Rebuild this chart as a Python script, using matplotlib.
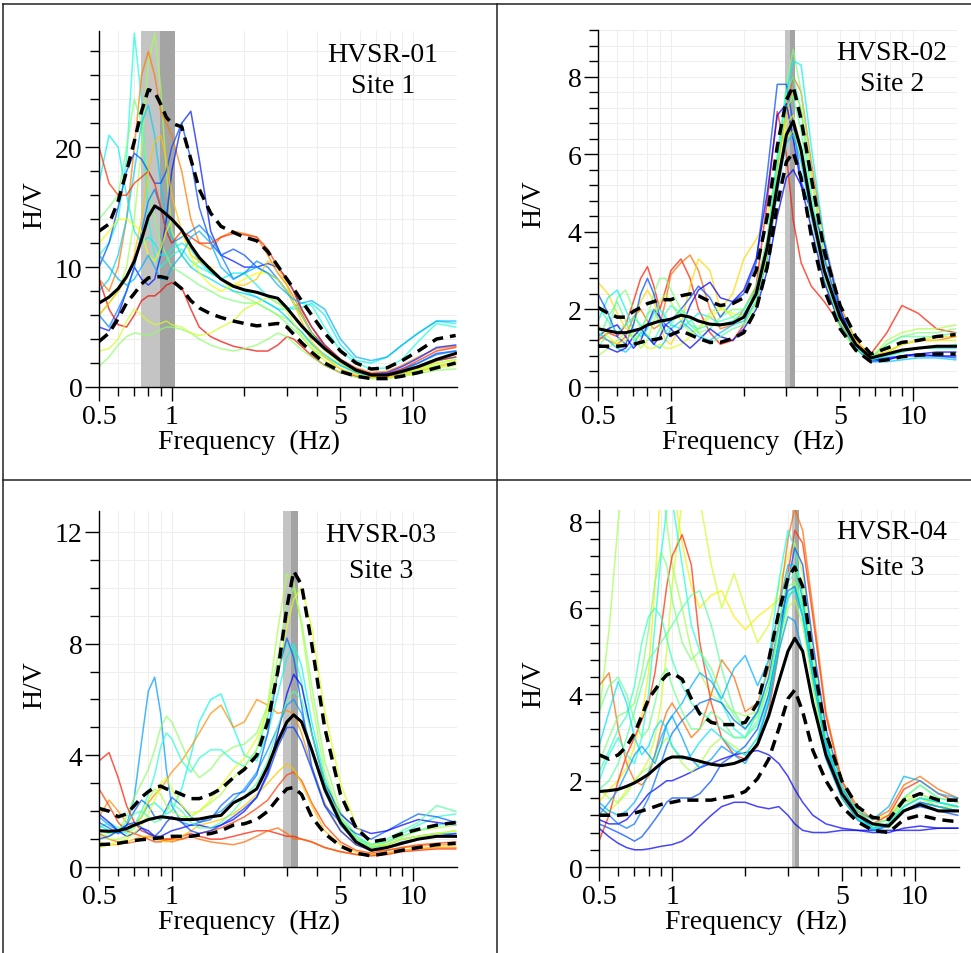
import matplotlib.pyplot as plt
from matplotlib.lines import Line2D
from matplotlib.ticker import FixedLocator, NullFormatter

plt.rcParams['font.family'] = ['Liberation Serif', 'DejaVu Serif']

# frequency grid (Hz) shared by all curves
freq = [0.5, 0.55, 0.6, 0.65, 0.7, 0.75, 0.8, 0.85, 0.9, 0.95, 1.0, 1.1, 1.2, 1.3, 1.45, 1.6, 1.8,
        2.0, 2.25, 2.5, 2.75, 3.0, 3.2, 3.45, 3.8, 4.3, 5.0, 5.8, 6.7, 7.8, 9.0, 10.5, 12.5, 15.0]

# ---------------- HVSR-01 / Site 1 ----------------
p1_mean = [7.0, 7.5, 8.2, 9.2, 10.5, 12.3, 14.2, 15.1, 14.8, 14.4, 14.0, 13.1, 11.8, 10.8, 9.8, 9.0, 8.4,
           8.1, 7.9, 7.6, 7.4, 6.6, 5.9, 5.1, 4.2, 3.2, 2.2, 1.4, 1.0, 1.0, 1.3, 1.7, 2.3, 2.8]
p1_upper = [13.0, 13.6, 15.5, 18.0, 20.5, 23.0, 24.8, 24.6, 23.6, 22.5, 22.0, 21.7, 19.0, 16.5, 14.5, 13.4, 12.9,
            12.5, 12.2, 11.3, 10.1, 9.0, 8.2, 7.2, 6.0, 4.5, 3.0, 2.0, 1.5, 1.6, 2.2, 3.0, 4.0, 4.3]
p1_lower = [3.8, 4.5, 5.7, 7.0, 7.8, 8.6, 9.1, 9.2, 9.2, 9.1, 8.9, 8.2, 7.2, 6.6, 6.1, 5.8, 5.5,
            5.3, 5.1, 5.2, 5.3, 5.0, 4.4, 3.7, 2.9, 2.0, 1.3, 0.9, 0.7, 0.7, 0.9, 1.2, 1.6, 2.0]
p1_c01 = [11, 12, 14, 19, 29.5, 24, 14, 11, 10, 10.5, 11, 11.5, 10.5, 10, 9.5, 9, 8.5, 8, 7.5, 7, 6.5, 6.5, 6.7, 7.0, 6.8, 5.0, 3.0, 2.0, 1.5, 1.6, 2.3, 3.8, 5.3, 5.0]
p1_c02 = [6, 7, 8, 10, 14, 20, 27, 29.5, 25, 18, 13, 11, 10, 10.5, 10, 9, 8, 7.5, 7, 6.5, 6, 5.7, 5.2, 4.6, 3.5, 2.5, 1.8, 1.2, 0.9, 0.9, 1.1, 1.4, 1.8, 2.0]
p1_c03 = [9, 8, 10, 14, 20, 26, 28, 26, 23, 22, 21, 18, 14, 12, 11.5, 12.5, 13, 12.8, 12.5, 11, 9.5, 8.5, 7.5, 6.2, 4.5, 3.5, 2.3, 1.6, 1.2, 1.3, 1.8, 2.5, 3.2, 3.4]
p1_c04 = [14, 15, 16, 20, 24, 22, 17, 14, 12, 11, 10, 9.5, 9, 8.5, 8, 7.5, 7.2, 7, 7, 6.5, 6, 5.3, 4.8, 4.2, 3.2, 2.5, 1.8, 1.2, 0.9, 0.9, 1.1, 1.5, 2.0, 2.3]
p1_c05 = [8, 9, 11, 14, 18, 22, 23.5, 21, 17, 14, 12.5, 11, 10, 9.5, 9, 8.5, 8, 7.8, 7.5, 7, 6.5, 5.8, 5.2, 4.6, 3.6, 2.7, 1.8, 1.2, 0.9, 0.9, 1.2, 1.6, 2.2, 2.5]
p1_c06 = [5, 4.7, 6, 8, 10, 9, 8.5, 9, 11, 14, 18, 22, 23, 19, 13, 11, 10.5, 10, 10, 10.3, 10, 9, 8, 6.5, 5, 3.5, 2.3, 1.5, 1.1, 1.2, 1.7, 2.4, 3.3, 3.5]
p1_c07 = [17, 21, 20, 16, 13, 12, 12.5, 12, 11, 11, 11.5, 12, 11.5, 10.5, 9.5, 9, 9.5, 9.5, 8.5, 7.5, 7, 6.6, 6.5, 6.6, 7, 6, 3.5, 2.2, 2, 2.5, 3.5, 4.5, 5.5, 5.3]
p1_c08 = [10, 12, 15, 18, 19.5, 19, 18, 17, 17, 18, 20, 22, 19, 15, 12, 11, 11.5, 11, 10, 9.5, 9, 8, 7, 6, 4.5, 3.3, 2.2, 1.4, 1.1, 1.1, 1.5, 2.0, 2.8, 3.0]
p1_c09 = [6, 5, 6.5, 8, 10, 13, 15.5, 16.5, 15, 13, 12, 12.5, 13, 13.5, 12.5, 11, 9, 9.5, 10.5, 10, 9, 8, 7, 6, 4.5, 3.2, 2.0, 1.3, 1.0, 1.0, 1.4, 2.0, 2.7, 3.0]
p1_c10 = [20, 17, 16, 16, 17, 17.5, 18, 17, 15, 13, 12, 13, 12.5, 12, 12, 12.5, 12.8, 12.7, 12.5, 11.5, 10, 9, 8, 6.5, 5, 3.5, 2.3, 1.5, 1.1, 1.1, 1.5, 2.2, 3, 3.3]
p1_c11 = [9, 6.5, 5.2, 5, 6, 7.2, 7.6, 7.6, 8, 8.5, 8.7, 8.3, 6.5, 5, 4.2, 3.8, 3.4, 3.2, 3.0, 3.0, 3.5, 4.2, 4.0, 3.4, 2.6, 1.8, 1.2, 0.9, 0.8, 0.9, 1.2, 1.6, 2.2, 2.5]
p1_c12 = [1.7, 2.5, 3.5, 4.2, 4.5, 4.4, 4.3, 4.5, 4.8, 5, 5, 4.8, 4.5, 4, 3.5, 3.2, 3, 3.2, 3.5, 4, 4.5, 4.2, 3.7, 3.1, 2.5, 1.8, 1.2, 0.8, 0.7, 0.7, 0.9, 1.1, 1.4, 1.5]
p1_c13 = [3, 3.2, 4, 5.5, 6.5, 6, 5.5, 5.2, 5.3, 5.5, 5.2, 5, 4.5, 4.3, 4.5, 5, 5.5, 6.5, 7, 7.5, 7, 6.3, 5.3, 4.3, 3.2, 2.2, 1.5, 1.0, 0.8, 0.8, 0.9, 1.2, 1.6, 1.8]
p1_c14 = [6, 7, 8, 9, 11, 14, 18, 20.5, 21, 19, 16, 13, 11, 10.5, 10, 9, 8.5, 8.5, 9, 10.5, 10, 8.5, 7, 5.5, 3.8, 2.5, 1.5, 1.0, 0.8, 0.8, 1.0, 1.3, 1.7, 2.0]
p1_c15 = [12, 13, 14, 14, 13.5, 13, 11, 10.5, 11.5, 13, 14, 13, 11, 9.5, 8.5, 8, 8.5, 9, 9.5, 9.5, 9, 8, 7, 6, 4.5, 3, 2, 1.3, 1.0, 1.0, 1.2, 1.5, 2, 2.2]
p1_c16 = [11, 10, 9, 8.5, 9, 10, 11, 10, 9, 9, 10, 11, 12.5, 13, 12, 10, 9, 9.5, 10, 9.5, 8.5, 7.8, 7.3, 7, 7.2, 6.5, 4, 2.5, 2.2, 2.5, 3.5, 4.5, 5.5, 5.5]
p1_f0 = [0.745, 0.89, 1.03]

# ---------------- HVSR-02 / Site 2 ----------------
p2_mean = [1.5, 1.45, 1.4, 1.4, 1.45, 1.5, 1.6, 1.65, 1.7, 1.72, 1.75, 1.85, 1.8, 1.7, 1.62, 1.6, 1.65,
           1.8, 2.4, 3.6, 5.2, 6.5, 6.85, 6.1, 4.6, 3.0, 1.8, 1.1, 0.75, 0.85, 0.95, 1.0, 1.05, 1.05]
p2_upper = [2.05, 1.9, 1.8, 1.8, 1.95, 2.05, 2.15, 2.2, 2.25, 2.25, 2.25, 2.35, 2.4, 2.35, 2.2, 2.1, 2.15,
            2.3, 3.0, 4.4, 6.2, 7.4, 7.75, 6.9, 5.4, 3.5, 2.1, 1.3, 0.85, 1.0, 1.15, 1.2, 1.3, 1.35]
p2_lower = [1.05, 1.05, 1.05, 1.07, 1.1, 1.15, 1.2, 1.22, 1.25, 1.3, 1.35, 1.45, 1.35, 1.25, 1.15, 1.15, 1.25,
            1.4, 2.0, 3.1, 4.7, 5.8, 6.05, 5.4, 3.9, 2.5, 1.5, 0.95, 0.65, 0.7, 0.78, 0.82, 0.85, 0.85]
p2_c01 = [1.2, 1.4, 1.3, 1.6, 2.2, 2.8, 3.1, 2.6, 2.0, 2.5, 3.0, 3.3, 2.8, 2.0, 1.4, 1.1, 1.2, 1.6, 2.6, 4.8, 7.1, 6.0, 4.3, 3.2, 2.6, 2.2, 1.6, 1.1, 0.85, 1.4, 2.1, 1.9, 1.5, 1.4]
p2_c02 = [1.3, 1.2, 1.1, 1.3, 1.8, 2.0, 1.7, 1.5, 1.6, 2.2, 2.9, 3.2, 3.4, 3.0, 2.0, 1.5, 1.6, 2.0, 2.6, 3.8, 5.6, 7.2, 8.0, 7.6, 5.8, 3.8, 2.1, 1.2, 0.8, 0.9, 1.1, 1.2, 1.2, 1.3]
p2_c03 = [2.7, 2.4, 1.9, 1.5, 1.6, 2.2, 2.5, 2.2, 1.6, 1.2, 1.1, 1.6, 2.6, 3.3, 3.0, 2.0, 2.4, 3.3, 3.8, 4.4, 5.6, 7.0, 7.6, 7.2, 5.4, 3.4, 2.0, 1.2, 0.8, 0.9, 1.1, 1.2, 1.3, 1.3]
p2_c04 = [1.0, 1.4, 2.3, 2.5, 2.0, 1.5, 1.8, 2.4, 2.8, 2.8, 2.5, 2.0, 1.6, 1.4, 1.5, 1.8, 2.0, 2.0, 2.6, 3.8, 5.8, 7.8, 8.7, 7.6, 5.6, 3.4, 1.9, 1.1, 0.75, 1.1, 1.3, 1.4, 1.4, 1.5]
p2_c05 = [1.7, 2.3, 2.5, 2.0, 1.5, 1.3, 1.5, 1.9, 2.0, 1.8, 1.6, 1.5, 1.7, 1.9, 1.8, 1.6, 1.7, 1.9, 2.4, 3.6, 5.8, 7.6, 8.4, 8.3, 6.2, 3.8, 2.0, 1.1, 0.7, 0.8, 0.9, 1.0, 1.0, 1.0]
p2_c06 = [2.4, 1.9, 1.3, 1.1, 1.6, 2.4, 2.8, 2.4, 1.8, 1.6, 1.7, 2.0, 2.3, 2.6, 2.3, 1.8, 2.2, 2.4, 3.2, 5.5, 7.8, 7.8, 6.8, 5.3, 4.5, 3.3, 1.9, 1.1, 0.7, 0.7, 0.8, 0.8, 0.8, 0.75]
p2_c07 = [1.3, 1.5, 1.6, 1.3, 1.0, 1.2, 1.6, 2.0, 1.8, 1.4, 1.3, 1.5, 2.1, 2.5, 2.7, 2.3, 2.2, 2.5, 3.3, 5.0, 7.0, 7.3, 6.4, 5.2, 4.6, 3.7, 2.0, 1.0, 0.65, 0.7, 0.8, 0.85, 0.8, 0.8]
p2_c08 = [0.8, 1.0, 1.2, 1.4, 1.3, 1.0, 1.2, 1.7, 2.2, 2.4, 2.2, 1.7, 1.4, 1.5, 1.9, 2.1, 1.8, 1.6, 2.1, 3.3, 5.2, 6.4, 6.6, 5.9, 4.4, 2.8, 1.5, 0.95, 0.75, 1.2, 1.4, 1.5, 1.5, 1.6]
p2_c09 = [1.4, 1.2, 1.0, 0.9, 1.1, 1.4, 1.3, 1.1, 1.0, 1.2, 1.5, 1.7, 1.5, 1.3, 1.2, 1.4, 1.6, 1.7, 2.2, 3.3, 5.0, 6.3, 6.5, 5.8, 4.4, 2.9, 1.7, 1.0, 0.65, 0.65, 0.7, 0.75, 0.75, 0.7]
p2_c10 = [1.6, 1.3, 1.1, 1.2, 1.4, 1.2, 1.0, 1.0, 1.1, 1.0, 1.0, 1.1, 1.3, 1.5, 1.8, 2.0, 1.9, 1.8, 2.3, 3.4, 5.3, 6.8, 7.0, 6.2, 4.6, 2.9, 1.7, 1.0, 0.7, 0.9, 1.1, 1.2, 1.2, 1.2]
p2_c11 = [1.1, 1.0, 0.9, 1.0, 1.3, 1.5, 1.3, 1.1, 1.3, 1.6, 1.5, 1.2, 1.0, 1.2, 1.5, 1.3, 1.2, 1.5, 2.0, 3.0, 4.4, 5.4, 5.6, 5.2, 4.1, 2.7, 1.6, 1.0, 0.7, 0.75, 0.8, 0.85, 0.9, 0.9]
p2_c12 = [1.2, 1.8, 2.2, 1.7, 1.2, 1.4, 1.9, 2.0, 1.6, 1.4, 1.6, 2.0, 1.8, 1.4, 1.1, 1.3, 1.5, 1.6, 2.2, 3.6, 5.7, 7.2, 7.5, 6.6, 4.8, 2.9, 1.6, 1.0, 0.75, 1.1, 1.3, 1.3, 1.3, 1.4]
p2_c13 = [2.1, 1.7, 1.4, 1.6, 1.8, 1.6, 1.3, 1.2, 1.5, 1.9, 2.1, 1.9, 1.6, 1.5, 1.6, 1.7, 1.8, 2.0, 2.5, 3.8, 6.0, 7.6, 8.0, 7.1, 5.0, 3.1, 1.8, 1.0, 0.7, 0.8, 0.9, 1.0, 1.0, 1.1]
p2_f0 = [2.95, 3.09, 3.24]

# ---------------- HVSR-03 / Site 3 ----------------
p3_mean = [1.3, 1.28, 1.3, 1.38, 1.5, 1.6, 1.7, 1.75, 1.8, 1.78, 1.75, 1.7, 1.7, 1.72, 1.8, 1.85, 2.3,
           2.5, 2.8, 3.6, 4.5, 5.2, 5.45, 5.2, 4.2, 2.8, 1.6, 0.9, 0.6, 0.7, 0.85, 1.0, 1.1, 1.1]
p3_upper = [2.1, 2.0, 1.8, 1.9, 2.2, 2.5, 2.7, 2.85, 2.9, 2.8, 2.75, 2.6, 2.45, 2.45, 2.6, 2.8, 3.2,
            3.5, 4.0, 5.2, 7.0, 9.3, 10.6, 10.1, 8.0, 5.0, 2.6, 1.4, 0.9, 1.0, 1.2, 1.35, 1.5, 1.6]
p3_lower = [0.8, 0.82, 0.85, 0.9, 0.95, 0.98, 1.0, 1.02, 1.05, 1.08, 1.1, 1.1, 1.1, 1.15, 1.2, 1.3, 1.5,
            1.55, 1.7, 2.0, 2.45, 2.8, 2.85, 2.6, 1.8, 1.2, 0.75, 0.5, 0.4, 0.5, 0.6, 0.7, 0.8, 0.85]
p3_c01 = [1.8, 1.5, 1.3, 1.5, 2.5, 4.5, 6.3, 6.8, 5.5, 3.5, 2.2, 1.6, 1.5, 1.6, 1.8, 2.0, 2.4, 2.8, 3.4, 4.2, 5.0, 5.8, 6.0, 5.5, 4.2, 2.7, 1.5, 0.9, 0.7, 0.8, 1.0, 1.1, 1.2, 1.2]
p3_c02 = [1.5, 1.3, 1.2, 1.3, 1.5, 1.8, 2.2, 2.3, 2.1, 1.9, 2.0, 2.8, 4.0, 5.2, 6.0, 6.2, 5.0, 4.0, 3.8, 4.8, 6.2, 7.5, 8.0, 7.2, 5.2, 3.2, 1.8, 1.1, 0.8, 0.9, 1.1, 1.3, 1.5, 1.6]
p3_c03 = [1.8, 2.4, 2.0, 1.6, 1.5, 1.8, 2.3, 2.6, 2.8, 3.1, 3.4, 3.8, 4.3, 4.8, 5.5, 5.8, 5.0, 5.2, 6.0, 5.8, 5.5, 5.6, 5.5, 4.8, 3.6, 2.3, 1.3, 0.8, 0.6, 0.6, 0.7, 0.75, 0.8, 0.8]
p3_c04 = [1.2, 1.1, 1.3, 1.8, 2.5, 3.0, 3.5, 4.2, 5.0, 5.4, 5.2, 4.4, 3.6, 3.2, 3.5, 4.0, 4.3, 4.4, 4.8, 5.8, 7.5, 9.5, 10.0, 8.8, 6.5, 3.8, 2.0, 1.1, 0.7, 0.8, 1.0, 1.1, 1.2, 1.3]
p3_c05 = [1.4, 1.6, 1.4, 1.2, 1.5, 2.0, 2.6, 3.3, 4.3, 4.8, 4.6, 3.8, 3.4, 3.9, 4.2, 4.2, 3.8, 3.6, 4.2, 5.4, 7.0, 8.0, 7.8, 6.6, 4.8, 3.0, 1.7, 1.0, 0.7, 0.9, 1.2, 1.5, 1.8, 1.9]
p3_c06 = [3.8, 4.1, 3.2, 2.2, 1.6, 1.3, 1.2, 1.1, 1.0, 1.0, 1.0, 1.1, 1.2, 1.1, 1.0, 1.0, 1.1, 1.2, 1.3, 1.3, 1.2, 1.1, 1.1, 1.0, 0.9, 0.7, 0.55, 0.45, 0.4, 0.45, 0.55, 0.6, 0.65, 0.65]
p3_c07 = [2.8, 2.2, 1.6, 1.3, 1.2, 1.1, 1.0, 0.9, 0.9, 1.0, 1.0, 1.0, 1.1, 1.2, 1.3, 1.4, 1.6, 1.8, 2.1, 2.4, 2.9, 3.3, 3.4, 3.1, 2.3, 1.5, 0.9, 0.6, 0.5, 0.6, 0.7, 0.8, 0.85, 0.9]
p3_c08 = [1.2, 1.0, 0.9, 0.85, 0.9, 1.0, 1.1, 1.1, 1.0, 0.95, 0.9, 1.0, 1.1, 1.0, 0.9, 0.85, 0.8, 0.9, 1.1, 1.3, 1.4, 1.2, 1.0, 1.0, 0.9, 0.7, 0.55, 0.45, 0.45, 0.5, 0.6, 0.65, 0.7, 0.7]
p3_c09 = [0.9, 0.8, 0.8, 0.9, 1.0, 1.1, 1.1, 1.0, 0.95, 0.9, 0.95, 1.1, 1.3, 1.5, 1.6, 1.7, 1.9, 2.2, 2.6, 3.0, 3.4, 3.7, 3.5, 3.0, 2.2, 1.3, 0.8, 0.55, 0.45, 0.5, 0.6, 0.65, 0.7, 0.7]
p3_c10 = [1.6, 1.4, 1.2, 1.5, 2.0, 2.4, 2.2, 1.8, 1.7, 2.1, 2.5, 2.2, 1.8, 1.6, 1.7, 2.2, 2.6, 2.7, 3.3, 4.8, 7.0, 8.2, 7.5, 5.8, 3.6, 2.2, 1.6, 1.2, 1.0, 1.3, 1.6, 1.9, 1.8, 1.6]
p3_c11 = [1.9, 1.6, 1.3, 1.1, 1.2, 1.4, 1.3, 1.1, 1.1, 1.2, 1.3, 1.4, 1.5, 1.5, 1.4, 1.5, 1.7, 2.0, 2.5, 3.4, 4.8, 6.2, 6.9, 6.5, 4.8, 3.0, 1.9, 1.4, 1.2, 1.3, 1.5, 1.7, 1.6, 1.5]
p3_c12 = [1.1, 1.0, 1.0, 1.1, 1.4, 1.8, 2.4, 2.8, 2.6, 2.2, 2.0, 1.8, 1.8, 2.0, 2.3, 2.6, 3.2, 3.6, 4.2, 5.8, 8.5, 10.5, 10.2, 8.6, 6.0, 3.4, 1.8, 1.0, 0.7, 0.9, 1.1, 1.3, 1.4, 1.5]
p3_c13 = [0.7, 0.8, 0.9, 1.0, 1.2, 1.5, 1.9, 2.4, 3.0, 3.2, 2.8, 2.2, 1.9, 2.0, 2.4, 2.9, 3.5, 3.9, 4.6, 5.6, 7.0, 8.6, 9.6, 10.0, 8.6, 5.6, 3.0, 1.5, 0.8, 0.8, 1.0, 1.1, 1.2, 1.3]
p3_c14 = [1.3, 1.2, 1.3, 1.6, 1.9, 2.0, 1.8, 1.6, 1.7, 2.0, 2.3, 2.0, 1.6, 1.4, 1.4, 1.6, 2.0, 2.5, 3.0, 3.8, 5.0, 6.0, 6.3, 6.0, 4.8, 3.0, 1.7, 1.0, 0.8, 1.0, 1.3, 1.6, 2.2, 2.0]
p3_c15 = [1.0, 1.1, 1.3, 1.5, 1.6, 1.4, 1.2, 1.1, 1.3, 1.6, 1.8, 1.6, 1.3, 1.2, 1.3, 1.5, 1.8, 2.1, 2.5, 3.3, 4.3, 5.0, 5.0, 4.5, 3.5, 2.2, 1.3, 0.8, 0.6, 0.7, 0.9, 1.0, 1.1, 1.2]
p3_f0 = [2.88, 3.11, 3.32]

# ---------------- HVSR-04 / Site 3 ----------------
p4_mean = [1.75, 1.77, 1.8, 1.87, 1.95, 2.05, 2.15, 2.28, 2.4, 2.5, 2.55, 2.55, 2.5, 2.45, 2.38, 2.35, 2.4,
           2.5, 2.85, 3.5, 4.3, 5.0, 5.3, 5.0, 3.8, 2.6, 1.7, 1.2, 1.0, 0.95, 1.3, 1.45, 1.3, 1.3]
p4_upper = [2.6, 2.5, 2.6, 2.8, 3.1, 3.5, 3.9, 4.1, 4.3, 4.45, 4.5, 4.35, 3.9, 3.55, 3.35, 3.3, 3.3,
            3.35, 3.8, 4.8, 5.9, 6.7, 6.95, 6.5, 4.8, 3.1, 2.0, 1.4, 1.15, 1.1, 1.55, 1.7, 1.55, 1.55]
p4_lower = [1.2, 1.2, 1.2, 1.22, 1.25, 1.3, 1.35, 1.4, 1.45, 1.48, 1.5, 1.55, 1.55, 1.55, 1.55, 1.6, 1.65,
            1.75, 2.05, 2.5, 3.2, 3.9, 4.1, 3.6, 2.7, 2.0, 1.4, 1.05, 0.85, 0.8, 1.1, 1.2, 1.1, 1.05]
p4_c01 = [3.5, 5.5, 8.0, 10, 12, 12, 11, 10, 9, 8, 7, 6, 5, 4.5, 4, 3.8, 3.6, 3.5, 3.6, 4.2, 5.2, 6.2, 6.6, 6.0, 4.3, 2.8, 1.8, 1.3, 1.0, 0.9, 1.3, 1.5, 1.4, 1.4]
p4_c02 = [1.5, 1.8, 2.0, 2.3, 2.8, 3.5, 4.5, 6.5, 9.0, 10, 9, 7.5, 6.5, 6.0, 6.3, 6.4, 5.8, 5.5, 5.8, 6.0, 6.2, 6.8, 7.0, 6.2, 4.5, 2.8, 1.8, 1.3, 1.1, 1.2, 1.6, 1.7, 1.5, 1.4]
p4_c03 = [1.2, 1.3, 1.5, 1.8, 2.0, 2.2, 2.5, 3.0, 3.8, 5.0, 6.5, 8.5, 9.0, 8.5, 7.0, 6.0, 6.8, 6.0, 5.2, 5.6, 6.5, 7.2, 7.5, 6.8, 5.0, 3.0, 1.8, 1.2, 1.0, 1.1, 1.5, 1.6, 1.4, 1.3]
p4_c04 = [0.6, 1.2, 2.0, 2.6, 3.0, 3.4, 3.8, 4.5, 5.5, 6.5, 7.2, 7.7, 7.0, 5.2, 3.8, 3.0, 2.6, 2.5, 2.8, 3.6, 5.0, 6.8, 7.8, 7.5, 5.8, 3.5, 2.0, 1.3, 1.0, 1.2, 1.8, 2.0, 1.7, 1.5]
p4_c05 = [4.2, 4.5, 3.2, 2.4, 2.0, 1.9, 2.1, 2.6, 3.2, 3.6, 3.8, 3.4, 3.0, 3.2, 4.0, 4.8, 4.4, 3.6, 3.8, 4.6, 6.0, 7.6, 8.3, 7.8, 6.0, 3.6, 2.0, 1.4, 1.1, 1.3, 1.9, 2.1, 1.8, 1.6]
p4_c06 = [2.0, 2.6, 3.0, 2.6, 2.4, 3.0, 4.0, 5.6, 7.2, 8.3, 8.5, 7.0, 5.6, 5.0, 4.4, 3.8, 3.2, 3.0, 3.6, 4.8, 6.6, 7.8, 7.4, 6.2, 4.6, 2.9, 1.7, 1.2, 0.9, 1.0, 1.4, 1.6, 1.5, 1.4]
p4_c07 = [2.4, 3.0, 3.5, 3.6, 3.8, 4.5, 5.5, 6.6, 7.3, 7.0, 6.2, 5.2, 4.8, 5.0, 4.6, 4.0, 3.5, 3.2, 3.5, 4.2, 5.4, 6.5, 6.6, 5.8, 4.2, 2.6, 1.6, 1.1, 0.9, 1.0, 1.5, 1.7, 1.5, 1.4]
p4_c08 = [1.8, 2.0, 2.4, 3.0, 3.6, 4.2, 4.8, 5.0, 5.2, 5.4, 5.6, 6.0, 6.3, 6.4, 5.6, 4.6, 3.6, 3.2, 3.6, 4.4, 5.6, 6.6, 6.8, 6.0, 4.3, 2.7, 1.7, 1.2, 1.0, 1.1, 1.6, 1.9, 1.6, 1.5]
p4_c09 = [2.2, 2.7, 3.2, 3.5, 4.2, 5.2, 5.8, 6.0, 5.8, 5.3, 4.8, 4.2, 3.8, 3.6, 3.4, 3.2, 3.0, 3.0, 3.3, 4.0, 5.2, 6.2, 6.5, 6.0, 4.6, 2.9, 1.8, 1.2, 0.95, 1.0, 1.4, 1.6, 1.5, 1.4]
p4_c10 = [1.0, 0.9, 0.8, 0.7, 0.6, 0.7, 0.9, 1.1, 1.3, 1.5, 1.6, 1.6, 1.6, 1.7, 2.0, 2.4, 2.6, 2.8, 3.2, 4.0, 5.2, 6.6, 7.4, 7.0, 5.2, 3.2, 1.9, 1.2, 0.9, 1.0, 1.3, 1.4, 1.3, 1.2]
p4_c11 = [0.9, 0.7, 0.55, 0.45, 0.4, 0.4, 0.42, 0.45, 0.48, 0.5, 0.52, 0.6, 0.75, 0.95, 1.2, 1.4, 1.5, 1.5, 1.4, 1.35, 1.4, 1.2, 1.0, 0.85, 0.8, 0.8, 0.85, 0.85, 0.85, 0.85, 0.85, 0.85, 0.9, 0.9]
p4_c12 = [1.1, 1.0, 1.0, 1.1, 1.3, 1.5, 1.7, 1.8, 1.9, 2.0, 2.0, 2.1, 2.2, 2.3, 2.4, 2.5, 2.6, 2.65, 2.7, 2.6, 2.4, 2.1, 1.8, 1.5, 1.2, 1.0, 0.9, 0.85, 0.8, 0.8, 0.9, 0.95, 0.9, 0.9]
p4_c13 = [1.4, 1.2, 1.0, 0.9, 1.0, 1.3, 1.6, 2.0, 2.4, 2.8, 3.1, 3.4, 3.6, 3.8, 3.9, 3.8, 3.4, 3.2, 3.6, 4.4, 5.6, 6.4, 6.5, 5.8, 4.4, 2.8, 1.7, 1.1, 0.85, 0.95, 1.3, 1.5, 1.4, 1.3]
p4_c14 = [1.5, 1.3, 1.2, 1.3, 1.5, 1.8, 2.2, 2.6, 3.0, 3.3, 3.5, 3.8, 4.2, 4.5, 4.3, 3.9, 4.6, 4.9, 4.2, 4.8, 6.0, 7.0, 7.0, 6.2, 4.6, 2.9, 1.8, 1.3, 1.1, 1.4, 2.1, 2.0, 1.7, 1.6]
p4_c15 = [1.8, 1.6, 1.5, 1.7, 2.0, 2.2, 2.3, 2.5, 2.8, 3.0, 2.8, 2.4, 2.2, 2.4, 2.8, 3.0, 2.8, 2.6, 3.0, 3.8, 5.0, 6.0, 6.2, 5.6, 4.2, 2.6, 1.6, 1.1, 0.9, 1.0, 1.4, 1.6, 1.4, 1.3]
p4_c16 = [2.8, 3.6, 4.3, 3.8, 3.0, 2.6, 2.8, 3.2, 3.4, 3.2, 2.8, 2.5, 2.6, 2.9, 3.2, 3.0, 2.7, 2.6, 3.0, 3.9, 5.2, 6.3, 6.4, 5.8, 4.4, 2.8, 1.7, 1.15, 0.9, 1.0, 1.4, 1.6, 1.5, 1.4]
p4_c17 = [1.2, 1.5, 1.8, 2.2, 2.6, 2.8, 2.6, 2.4, 2.8, 3.3, 3.5, 3.0, 2.5, 2.3, 2.5, 2.8, 2.6, 2.4, 2.9, 3.8, 5.0, 5.8, 5.7, 5.0, 3.8, 2.5, 1.6, 1.1, 0.85, 0.95, 1.3, 1.5, 1.4, 1.3]
p4_c18 = [3.6, 4.2, 4.4, 4.0, 3.4, 3.0, 3.2, 3.8, 4.4, 4.6, 4.2, 3.6, 3.2, 3.2, 3.6, 3.4, 3.0, 3.0, 3.4, 4.2, 5.6, 6.8, 7.0, 6.4, 4.8, 3.0, 1.9, 1.3, 1.0, 1.1, 1.6, 1.9, 1.6, 1.5]
p4_f0 = [3.11, 3.2, 3.33]

panels = [
    dict(curves=[p1_c01, p1_c02, p1_c03, p1_c04, p1_c05, p1_c06, p1_c07, p1_c08,
                 p1_c09, p1_c10, p1_c11, p1_c12, p1_c13, p1_c14, p1_c15, p1_c16],
         cpos=[0.38, 0.55, 0.78, 0.5, 0.33, 0.15, 0.36, 0.2, 0.25, 0.86, 0.9, 0.52, 0.6, 0.7, 0.64, 0.3],
         mean=p1_mean, upper=p1_upper, lower=p1_lower, f0=p1_f0,
         title='HVSR-01', site='Site 1', ylim=29.7, major=[0, 10, 20], minor=2,
         rect=[0.102, 0.5933, 0.3687, 0.3732], tpos=(0.793, 0.935, 0.848), xl=0.42),
    dict(curves=[p2_c01, p2_c02, p2_c03, p2_c04, p2_c05, p2_c06, p2_c07, p2_c08,
                 p2_c09, p2_c10, p2_c11, p2_c12, p2_c13],
         cpos=[0.88, 0.8, 0.68, 0.5, 0.36, 0.2, 0.12, 0.56, 0.32, 0.62, 0.1, 0.46, 0.42],
         mean=p2_mean, upper=p2_upper, lower=p2_lower, f0=p2_f0,
         title='HVSR-02', site='Site 2', ylim=9.2, major=[0, 2, 4, 6, 8], minor=0.4,
         rect=[0.6159, 0.5933, 0.3697, 0.3742], tpos=(0.819, 0.936, 0.849), xl=0.432),
    dict(curves=[p3_c01, p3_c02, p3_c03, p3_c04, p3_c05, p3_c06, p3_c07, p3_c08,
                 p3_c09, p3_c10, p3_c11, p3_c12, p3_c13, p3_c14, p3_c15],
         cpos=[0.28, 0.37, 0.76, 0.52, 0.4, 0.88, 0.84, 0.8, 0.7, 0.22, 0.13, 0.56, 0.62, 0.45, 0.18],
         mean=p3_mean, upper=p3_upper, lower=p3_lower, f0=p3_f0,
         title='HVSR-03', site='Site 3', ylim=12.75, major=[0, 4, 8, 12], minor=1,
         rect=[0.102, 0.0901, 0.3687, 0.3732], tpos=(0.788, 0.933, 0.834), xl=0.42),
    dict(curves=[p4_c01, p4_c02, p4_c03, p4_c04, p4_c05, p4_c06, p4_c07, p4_c08, p4_c09,
                 p4_c10, p4_c11, p4_c12, p4_c13, p4_c14, p4_c15, p4_c16, p4_c17, p4_c18],
         cpos=[0.55, 0.66, 0.6, 0.86, 0.8, 0.38, 0.5, 0.46, 0.42, 0.2, 0.1, 0.12, 0.24,
               0.3, 0.56, 0.35, 0.28, 0.48],
         mean=p4_mean, upper=p4_upper, lower=p4_lower, f0=p4_f0,
         title='HVSR-04', site='Site 3', ylim=8.27, major=[0, 2, 4, 6, 8], minor=0.4,
         rect=[0.6169, 0.0901, 0.3708, 0.3742], tpos=(0.814, 0.941, 0.84), xl=0.436),
]

fig = plt.figure(figsize=(9.71, 9.54), dpi=100)
cmap = plt.get_cmap('jet')
FS = 20

for p in panels:
    ax = fig.add_axes(p['rect'])
    ax.set_xscale('log')
    ax.set_xlim(0.5, 15.2)
    ax.set_ylim(0, p['ylim'])

    # f0 +/- std band
    ax.axvspan(p['f0'][0], p['f0'][1], color='#c4c4c4', lw=0, zorder=1)
    ax.axvspan(p['f0'][1], p['f0'][2], color='#a4a4a4', lw=0, zorder=1)

    for c, cp in zip(p['curves'], p['cpos']):
        ax.plot(freq, c, color=cmap(cp), lw=1.1, alpha=0.72, zorder=2, solid_joinstyle='round')
    ax.plot(freq, p['mean'], color='black', lw=2.2, zorder=4, solid_joinstyle='round')
    for s in (p['upper'], p['lower']):
        ax.plot(freq, s, color='black', lw=2.5, ls=(0, (3.2, 2.0)), zorder=4)

    # ticks
    ax.xaxis.set_major_locator(FixedLocator([0.5, 1, 5, 10]))
    ax.xaxis.set_minor_locator(FixedLocator([0.6, 0.7, 0.8, 0.9, 2, 3, 4, 6, 7, 8, 9]))
    ax.set_xticklabels(['0.5', '1', '5', '10'])
    ax.xaxis.set_minor_formatter(NullFormatter())
    ax.yaxis.set_major_locator(FixedLocator(p['major']))
    n = int(round(p['ylim'] / p['minor']))
    ax.yaxis.set_minor_locator(FixedLocator([i * p['minor'] for i in range(n + 1)]))
    ax.tick_params(which='major', length=10, width=1.0, labelsize=FS, pad=2, direction='out')
    ax.tick_params(which='minor', length=6.5, width=1.0, direction='out')

    ax.grid(True, which='both', color='#eeeeee', lw=0.8, zorder=0)
    ax.set_axisbelow(True)
    for side in ('top', 'right'):
        ax.spines[side].set_visible(False)
    for side in ('left', 'bottom'):
        ax.spines[side].set_linewidth(1.0)

    ax.text(p['xl'], -0.152, 'Frequency  (Hz)', transform=ax.transAxes,
            ha='center', va='center', fontsize=FS)
    ax.text(-0.18, 0.515, 'H/V', transform=ax.transAxes, rotation=90,
            ha='center', va='center', fontsize=FS)
    ax.text(p['tpos'][0], p['tpos'][1], p['title'], transform=ax.transAxes,
            ha='center', va='center', fontsize=FS, zorder=5)
    ax.text(p['tpos'][0], p['tpos'][2], p['site'], transform=ax.transAxes,
            ha='center', va='center', fontsize=FS, zorder=5)

# panel frame lines
for xs, ys in [([0.003, 1.0], [0.9948, 0.9948]),
               ([0.003, 0.003], [0.0, 0.9948]),
               ([0.5118, 0.5118], [0.0, 0.9948]),
               ([0.003, 1.0], [0.4958, 0.4958])]:
    fig.add_artist(Line2D(xs, ys, transform=fig.transFigure, color='#222222', lw=1.1))

fig.savefig('out.png', dpi=100)
